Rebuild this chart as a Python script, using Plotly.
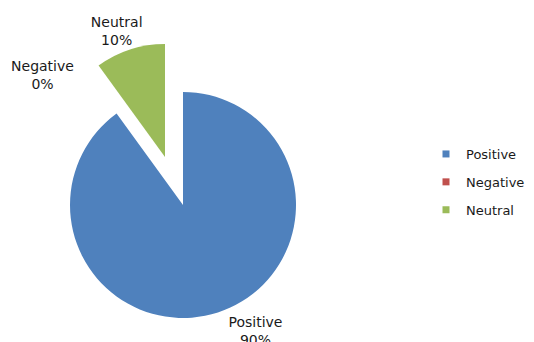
import plotly.graph_objects as go

labels = ["Positive", "Negative", "Neutral"]
values = [90, 0, 10]
colors = ["#4F81BD", "#C0504D", "#9BBB59"]

total = sum(values)
pct_text = [f"{l}<br>{round(v * 100 / total)}%" for l, v in zip(labels, values)]
transparent = "rgba(0,0,0,0)"

OFF = 8  # page body margin offset
W, H = 534 - 2 * OFF, 342 + OFF
FONT = "DejaVu Sans"
TXT = "#1a1a1a"
FS = 14

def dom(cx, cy, r):
    cx -= OFF
    cy -= OFF
    return dict(x=[(cx - r) / W, (cx + r) / W], y=[(H - cy - r) / H, (H - cy + r) / H])

def pie(slice_colors, texts, domain):
    return go.Pie(
        labels=labels, values=values, sort=False, direction="clockwise", rotation=0,
        marker=dict(colors=slice_colors, line=dict(width=0)),
        text=texts, textinfo="text", textposition="outside",
        textfont=dict(family=FONT, size=FS, color=TXT),
        domain=domain, showlegend=False, hoverinfo="skip",
    )

R = 113
fig = go.Figure()
# main body: Positive (and the zero-width Negative)
fig.add_trace(pie([colors[0], colors[1], transparent], ["", "", ""], dom(183, 205, R)))
# exploded Neutral wedge
fig.add_trace(pie([transparent, transparent, colors[2]], ["", "", ""], dom(165, 157, R)))
# label carriers
fig.add_trace(pie([transparent] * 3, [pct_text[0], "", ""], dom(185, 208, R)))
fig.add_trace(pie([transparent] * 3, ["", pct_text[1], ""], dom(153, 183, 120)))
fig.add_trace(pie([transparent] * 3, ["", "", pct_text[2]], dom(186, 154, R)))

# legend entries
for i, (l, c) in enumerate(zip(labels, colors)):
    fig.add_trace(go.Scatter(
        x=[None], y=[None], mode="markers", name=l, legendgroup=f"g{i}",
        marker=dict(symbol="square", size=7, color=c),
    ))

fig.update_layout(
    width=W, height=H, margin=dict(l=0, r=0, t=0, b=0, autoexpand=False),
    paper_bgcolor="white", plot_bgcolor="white",
    xaxis=dict(visible=False), yaxis=dict(visible=False),
    legend=dict(x=(466 - OFF - 40) / W, y=1 - (182 - OFF) / H, xanchor="left", yanchor="middle",
                bgcolor="rgba(0,0,0,0)",
                tracegroupgap=8, font=dict(family=FONT, size=13, color=TXT)),
)

fig.write_html("out.html")
